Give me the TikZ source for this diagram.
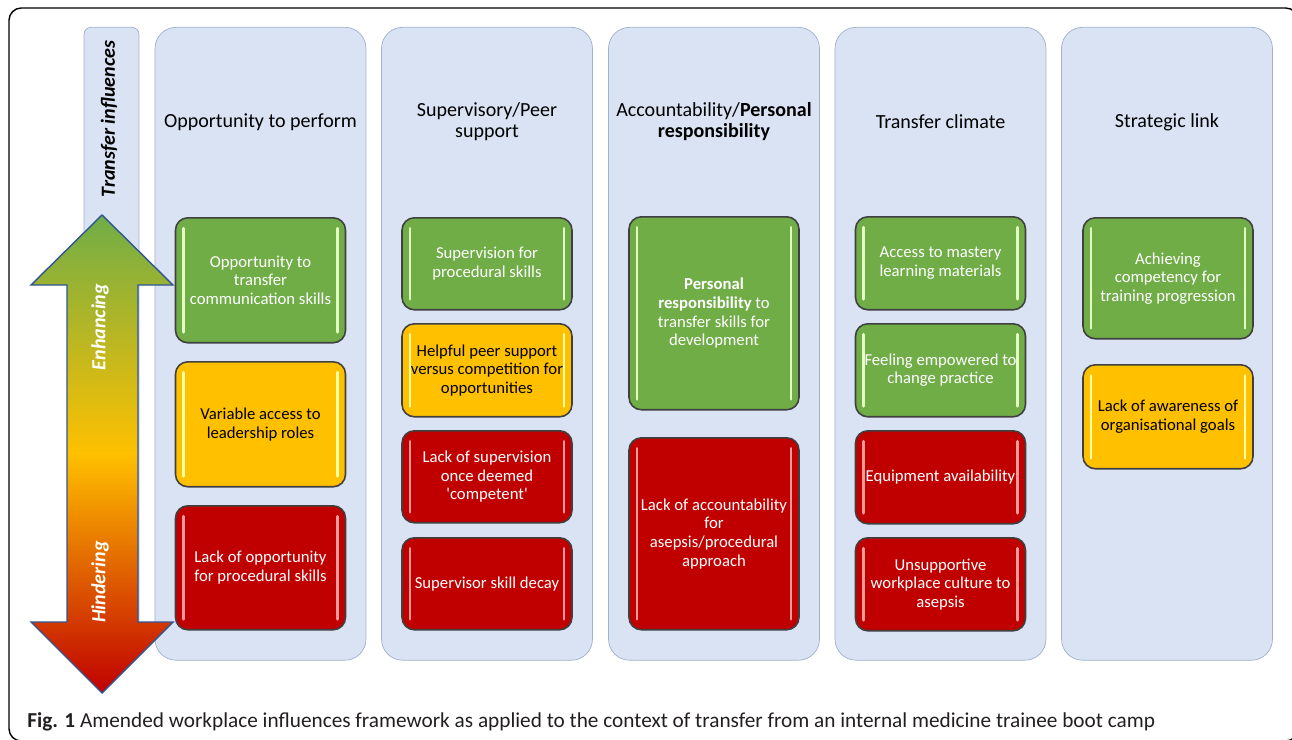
\documentclass[tikz,border=0pt]{standalone}
\usepackage{fontspec}
\setmainfont{Carlito}
\usepackage{xcolor}
\usetikzlibrary{positioning}

\definecolor{colfill}{HTML}{DAE3F3}
\definecolor{colline}{HTML}{9FB1CC}
\definecolor{okgreen}{HTML}{70AD47}
\definecolor{okgreenlt}{HTML}{E4FFC4}
\definecolor{midamber}{HTML}{FFC000}
\definecolor{midamberlt}{HTML}{FFFFA8}
\definecolor{badred}{HTML}{C00000}
\definecolor{badredlt}{HTML}{FF9A9A}
\definecolor{arrowedge}{HTML}{2F5597}
\definecolor{captext}{HTML}{231F20}

% light bars inside the factor boxes
\newcommand{\gloss}[1]{%
  \draw[#1,line width=1.6pt,line cap=round]
    ([xshift=4.5pt,yshift=-6pt]path picture bounding box.north west) --
    ([xshift=4.5pt,yshift=6pt]path picture bounding box.south west)
    ([xshift=-4.5pt,yshift=-6pt]path picture bounding box.north east) --
    ([xshift=-4.5pt,yshift=6pt]path picture bounding box.south east);}

\begin{document}
\begin{tikzpicture}[x=0.02cm,y=-0.02cm]
  \tikzstyle{column}=[draw=colline,fill=colfill,rounded corners=12pt,minimum width=4.22cm,minimum height=12.66cm,anchor=north,inner sep=0pt]
  \tikzstyle{head}=[align=center,font=\fontsize{11.4}{11.9}\selectfont]
  \tikzstyle{factor}=[draw=black!75,line width=0.9pt,rounded corners=7pt,minimum width=3.4cm,anchor=north,align=center,inner sep=0pt,font=\fontsize{9.5}{10.6}\selectfont]
  \tikzstyle{enh}=[factor,fill=okgreen,text=white,path picture={\gloss{okgreenlt}}]
  \tikzstyle{mid}=[factor,fill=midamber,text=black,path picture={\gloss{midamberlt}}]
  \tikzstyle{hin}=[factor,fill=badred,text=white,path picture={\gloss{badredlt}}]
  \tikzstyle{side}=[rotate=90,font=\fontsize{11.4}{12}\selectfont\bfseries\itshape]

  \useasboundingbox (0,0) rectangle (1292,740);
  \begin{scope}
    \clip (0,0) rectangle (1292,740);
    \draw[rounded corners=7pt,line width=0.8pt] (9,8) rectangle (1298,741);
  \end{scope}

  % columns
  \node[column,minimum width=1.1cm,rounded corners=4pt] (infl) at (111.5,27) {};
  \node[column] (opp) at (260.5,27) {};
  \node[column] (sup) at (487,27) {};
  \node[column] (acc) at (714,27) {};
  \node[column] (clim) at (940.5,27) {};
  \node[column] (strat) at (1167,27) {};

  \node[side] (infl-l) at (109,119) {Transfer influences};
  \node[head] (opp-h) at (260.5,122) {Opportunity to perform};
  \node[head] (sup-h) at (487,122) {Supervisory/Peer\\support};
  \node[head] (acc-h) at (714,122) {Accountability/\textbf{Personal}\\\textbf{responsibility}};
  \node[head] (clim-h) at (940.5,122) {Transfer climate};
  \node[head] (strat-h) at (1167,122) {Strategic link};

  % factors
  \node[enh,minimum height=2.5cm] (opp-1) at (260.5,217) {Opportunity to\\transfer\\communication skills};
  \node[mid,minimum height=2.5cm] (opp-2) at (260.5,361) {Variable access to\\leadership roles};
  \node[hin,minimum height=2.48cm] (opp-3) at (260.5,505) {Lack of opportunity\\for procedural skills};

  \node[enh,minimum height=1.84cm] (sup-1) at (487,217) {Supervision for\\procedural skills};
  \node[mid,minimum height=1.86cm] (sup-2) at (487,323) {Helpful peer support\\versus competition for\\opportunities};
  \node[hin,minimum height=1.84cm] (sup-3) at (487,430) {Lack of supervision\\once deemed\\\textquotesingle competent\textquotesingle};
  \node[hin,minimum height=1.84cm] (sup-4) at (487,537) {Supervisor skill decay};

  \node[enh,minimum height=3.86cm] (acc-1) at (714,216) {\textbf{Personal}\\\textbf{responsibility} to\\transfer skills for\\development};
  \node[hin,minimum height=3.84cm] (acc-2) at (714,437) {Lack of accountability\\for\\asepsis/procedural\\approach};

  \node[enh,minimum height=1.86cm] (clim-1) at (940.5,216) {Access to mastery\\learning materials};
  \node[enh,minimum height=1.86cm] (clim-2) at (940.5,323) {Feeling empowered to\\change practice};
  \node[hin,minimum height=1.86cm] (clim-3) at (940.5,430) {Equipment availability};
  \node[hin,minimum height=1.86cm] (clim-4) at (940.5,537) {Unsupportive\\workplace culture to\\asepsis};

  \node[enh,minimum height=2.42cm] (strat-1) at (1168,217) {Achieving\\competency for\\training progression};
  \node[mid,minimum height=2.08cm] (strat-2) at (1168,364) {Lack of awareness of\\organisational goals};

  % enhancing / hindering arrow
  \draw[draw=arrowedge,line width=0.8pt,top color=okgreen,bottom color=badred,middle color=midamber]
    (102,215) -- (173,285) -- (138,285) -- (138,622) -- (173,622) -- (102,693)
    -- (31,622) -- (67,622) -- (67,285) -- (31,285) -- cycle;
  \node[side,text=white] (enh-l) at (100,327) {Enhancing};
  \node[side,text=white] (hin-l) at (100,582) {Hindering};

  \node[anchor=base west,inner sep=0pt,text=captext,font=\fontsize{12.1}{14}\selectfont] (cap) at (27,727)
    {\textbf{Fig. 1} Amended workplace influences framework as applied to the context of transfer from an internal medicine trainee boot camp};
\end{tikzpicture}
\end{document}
